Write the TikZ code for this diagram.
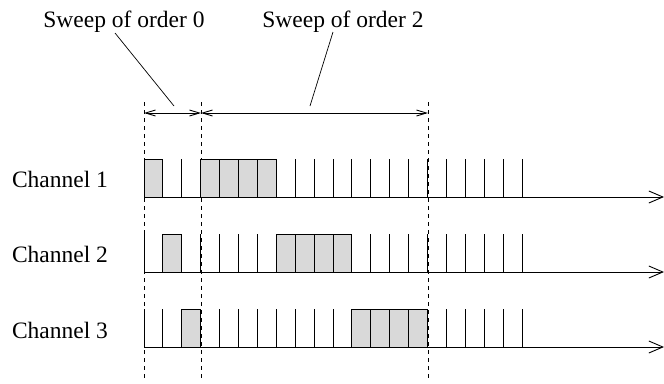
\documentclass[tikz,border=0pt]{standalone}
\usepackage{fontspec}
\setmainfont{Liberation Serif}
\usetikzlibrary{arrows.meta}
\begin{document}
\begin{tikzpicture}[x=1pt,y=-1pt,line width=0.9pt,
  lbl/.style={inner sep=0pt,font=\fontsize{23.5}{28}\selectfont},
  slotbox/.style={draw=black,fill=black!15},
  tick/.style={draw=black},
  guide/.style={draw=black,dash pattern=on 4pt off 4pt,line width=0.8pt},
  axisline/.style={draw=black,-{Straight Barb[length=14pt,width=12pt,line width=0.9pt]}},
  span/.style={draw=black,{Straight Barb[length=10pt,width=6pt]}-{Straight Barb[length=10pt,width=6pt]}},
  leader/.style={draw=black,line width=0.7pt}]
\useasboundingbox (0,0) rectangle (664,383);
\def\w{18.9}
\def\h{38}
% labels
\node[lbl] (s0) at (124,22) {Sweep of order 0};
\node[lbl] (s2) at (343,22) {Sweep of order 2};
\node[lbl] (c1) at (60,179) {Channel 1};
\node[lbl] (c2) at (60,254) {Channel 2};
\node[lbl] (c3) at (60,330) {Channel 3};
% guide coordinates
\coordinate (g0t) at (144,102); \coordinate (g0b) at (144,381);
\coordinate (g1t) at (201,102); \coordinate (g1b) at (201,381);
\coordinate (g2t) at (428,102); \coordinate (g2b) at (428,381);
\coordinate (a0) at (144,113); \coordinate (a1) at (201,113); \coordinate (a2) at (428,113);
\coordinate (l0s) at (115,33); \coordinate (l0e) at (174,106);
\coordinate (l2s) at (333,32); \coordinate (l2e) at (310,106);
\draw[guide] (g0t) -- (g0b);
\draw[guide] (g1t) -- (g1b);
\draw[guide] (g2t) -- (g2b);
% channels: baseline y, fill slot small, fill start big
\foreach \by/\sa/\sb in {197/0/3, 272/1/7, 347/2/11}{
  \draw[slotbox] ({144+\sa*\w},\by) rectangle ({144+(\sa+1)*\w},{\by-\h});
  \draw[slotbox] ({144+\sb*\w},\by) rectangle ({144+(\sb+4)*\w},{\by-\h});
  \foreach \k in {0,...,20}{
    \draw[tick] ({144+\k*\w},\by) -- ({144+\k*\w},{\by-\h});
  }
  \coordinate (ax0) at (144,\by); \coordinate (ax1) at (664,\by);
  \draw[axisline] (ax0) -- (ax1);
}
\draw[span] (a0) -- (a1);
\draw[span] (a1) -- (a2);
\draw[leader] (l0s) -- (l0e);
\draw[leader] (l2s) -- (l2e);
\end{tikzpicture}
\end{document}
